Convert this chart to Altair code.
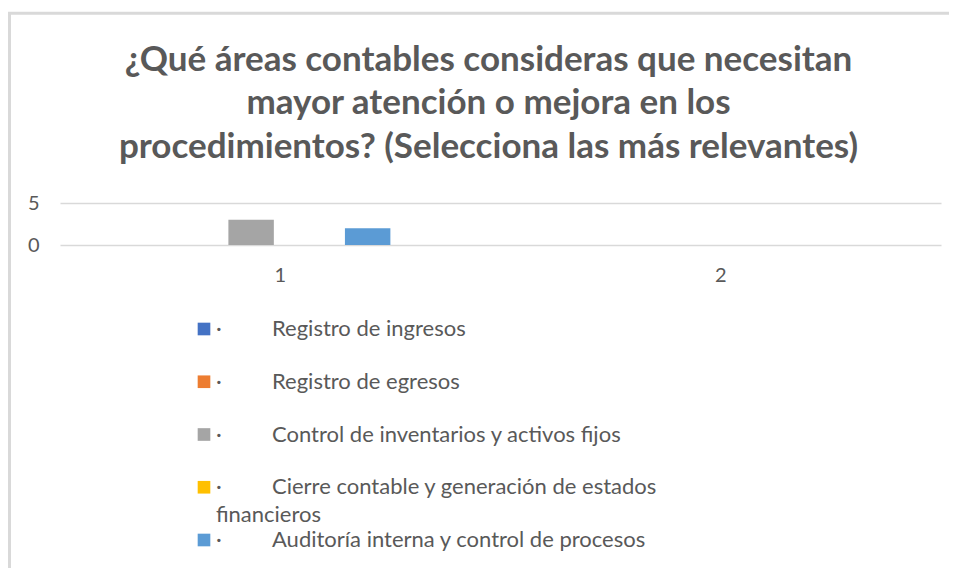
import textwrap
import altair as alt
import pandas as pd

# ---------------- data ----------------
title_lines = [
    "¿Qué áreas contables consideras que necesitan",
    "mayor atención o mejora en los",
    "procedimientos? (Selecciona las más relevantes)",
]
categories = ["1", "2"]
series = [
    "Registro de ingresos",
    "Registro de egresos",
    "Control de inventarios y activos fijos",
    "Cierre contable y generación de estados financieros",
    "Auditoría interna y control de procesos",
    "",  # sixth, unnamed series (kept for the slot, no legend entry)
]
values_cat1 = [0, 0, 3, 0, 2, 0]
values_cat2 = [0, 0, 0, 0, 0, 0]
colors = ["#4472C4", "#ED7D31", "#A5A5A5", "#FFC000", "#5B9BD5", "#70AD47"]
y_ticks = [0, 5]

# ---------------- tables ----------------
rows = []
for cat, vals in zip(categories, [values_cat1, values_cat2]):
    for s, v in zip(series, vals):
        rows.append({"cat": cat, "series": s, "value": v})
bars_df = pd.DataFrame(rows)

legend_names = [s for s in series if s]
leg_rows = []
for s in legend_names:
    lines = textwrap.wrap(s, 45)
    leg_rows.append({"series": s, "line1": lines[0],
                     "line2": " ".join(lines[1:]), "dot": "·"})
leg_df = pd.DataFrame(leg_rows)

TXT = "#595959"
FONT = "Lato"
FS = 20
LFS = 22

color_scale = alt.Scale(domain=series, range=colors)
leg_y = alt.Y("series:N", scale=alt.Scale(type="point", domain=legend_names,
                                           range=[126, 337], padding=0), axis=None)

bars = alt.Chart(bars_df).mark_bar().encode(
    x=alt.X("cat:N", sort=categories,
            scale=alt.Scale(domain=categories, paddingInner=0, paddingOuter=0),
            axis=alt.Axis(title=None, labelAngle=0, domain=False, ticks=False,
                          labelPadding=20, labelFontSize=FS, labelFont=FONT,
                          labelColor=TXT, grid=False)),
    xOffset=alt.XOffset("series:N",
                        scale=alt.Scale(domain=series, paddingInner=0.22, paddingOuter=0.89)),
    y=alt.Y("value:Q", scale=alt.Scale(domain=[0, 5]),
            axis=alt.Axis(title=None, values=y_ticks, domain=False, ticks=False,
                          labelPadding=21, labelFontSize=FS, labelFont=FONT,
                          labelColor=TXT, grid=True, gridColor="#D9D9D9",
                          gridWidth=1.3)),
    color=alt.Color("series:N", scale=color_scale, legend=None),
)

leg_sq = alt.Chart(leg_df).mark_square(size=160, opacity=1).encode(
    x=alt.value(144), y=leg_y,
    color=alt.Color("series:N", scale=color_scale, legend=None),
)
leg_dot = alt.Chart(leg_df).mark_text(
    align="left", baseline="middle", fontSize=LFS, font=FONT, color=TXT
).encode(x=alt.value(156), y=leg_y, text="dot:N")
leg_l1 = alt.Chart(leg_df).mark_text(
    align="left", baseline="middle", fontSize=LFS, font=FONT, color=TXT
).encode(x=alt.value(212), y=leg_y, text="line1:N")
leg_l2 = alt.Chart(leg_df).mark_text(
    align="left", baseline="middle", fontSize=LFS, font=FONT, color=TXT, dy=28
).encode(x=alt.value(156), y=leg_y, text="line2:N")

one = pd.DataFrame({"k": [0]})
border_v = alt.Chart(one).mark_rule(color="#D9D9D9", strokeWidth=3).encode(
    x=alt.value(-50.5), y=alt.value(-191), y2=alt.value(380))
border_h = alt.Chart(one).mark_rule(color="#D9D9D9", strokeWidth=3).encode(
    x=alt.value(-52), x2=alt.value(889), y=alt.value(-189.8))

chart = alt.layer(border_v, border_h, bars, leg_sq, leg_dot, leg_l1, leg_l2).resolve_scale(
    y="independent"
).properties(
    width=881, height=42,
    autosize=alt.AutoSizeParams(type="none"),
    padding={"left": 52, "top": 195, "right": 8, "bottom": 323},
    title=alt.Title(text=title_lines, fontSize=35, font=FONT, fontWeight="bold",
                    color=TXT, anchor="middle", lineHeight=43.5, dx=-12, offset=-154),
    background="white",
).configure_view(stroke=None)

chart.save("out.html", embed_options={"renderer": "svg", "actions": False})
